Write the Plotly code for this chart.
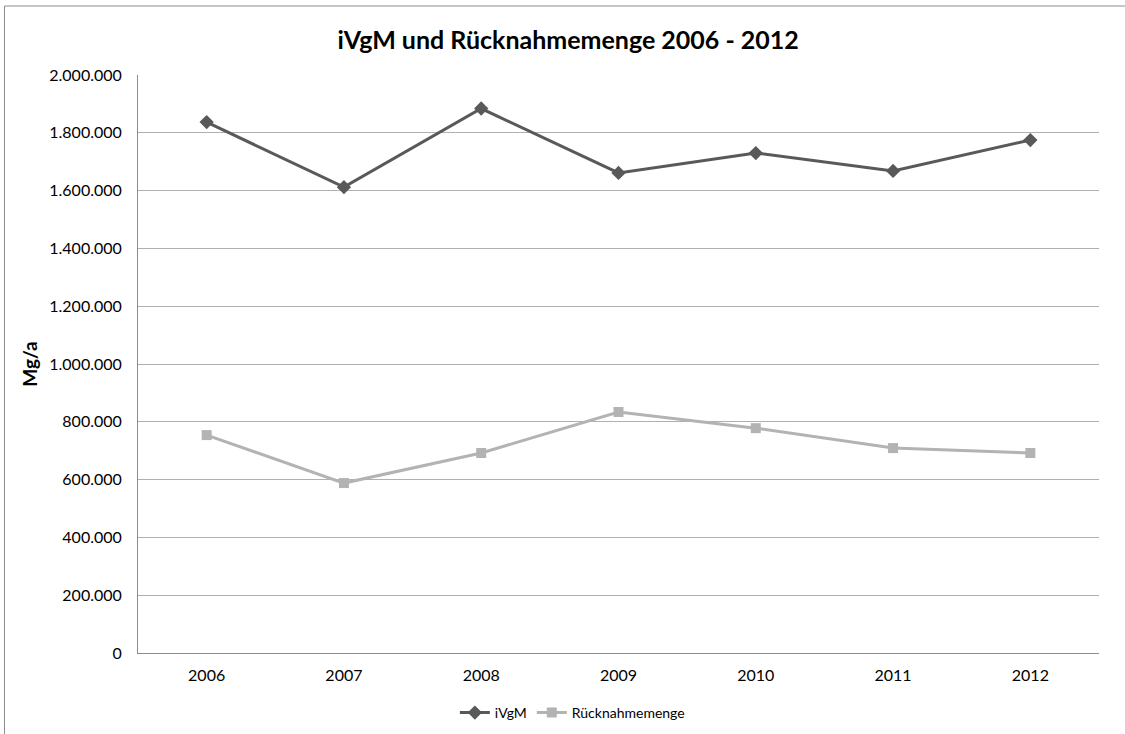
import plotly.graph_objects as go

years = ["2006", "2007", "2008", "2009", "2010", "2011", "2012"]
ivgm = [1837000, 1612000, 1884000, 1661000, 1730000, 1668000, 1775000]
ruecknahme = [754000, 588000, 692000, 834000, 778000, 709000, 692000]
y_ticks = [0, 200000, 400000, 600000, 800000, 1000000, 1200000, 1400000, 1600000, 1800000, 2000000]
y_labels = ["0", "200.000", "400.000", "600.000", "800.000", "1.000.000", "1.200.000",
            "1.400.000", "1.600.000", "1.800.000", "2.000.000"]

FONT = "Lato, Open Sans, sans-serif"

fig = go.Figure()
fig.add_trace(go.Scatter(
    x=years, y=ivgm, name="iVgM", mode="lines+markers",
    line=dict(color="#595959", width=3),
    marker=dict(symbol="diamond", size=11, color="#595959"),
))
fig.add_trace(go.Scatter(
    x=years, y=ruecknahme, name="Rücknahmemenge", mode="lines+markers",
    line=dict(color="#B3B3B3", width=3),
    marker=dict(symbol="square", size=10, color="#B3B3B3"),
))

fig.update_layout(
    width=1125, height=734,
    paper_bgcolor="white", plot_bgcolor="white",
    margin=dict(l=138, r=26, t=75, b=81),
    font=dict(family=FONT, size=16, color="#000000"),
    title=dict(text="<b>iVgM und Rücknahmemenge 2006 - 2012</b>",
               x=0.505, xanchor="center", y=0.945, yanchor="middle",
               font=dict(family=FONT, size=25, color="#000000")),
    showlegend=True,
    legend=dict(orientation="h", x=0.452, xanchor="center",
                yref="container", y=1 - 713 / 734, yanchor="middle",
                font=dict(family=FONT, size=14), itemwidth=30, bgcolor="rgba(0,0,0,0)"),
    xaxis=dict(type="category", showgrid=False, showline=True, linecolor="#8C8C8C",
               linewidth=1, ticks="", tickfont=dict(size=16), range=[-0.5, 6.5],
               ticklabelstandoff=8, automargin=False),
    yaxis=dict(range=[0, 2000000], tickvals=y_ticks, ticktext=y_labels,
               showgrid=True, gridcolor="#B0B0B0", gridwidth=1,
               showline=True, linecolor="#8C8C8C", linewidth=1, zeroline=False,
               ticks="", ticklen=0, tickfont=dict(size=16), ticklabelstandoff=12,
               automargin=False,
               title=dict(text="<b>Mg/a</b>", font=dict(size=19), standoff=6)),
    shapes=[dict(type="rect", xref="paper", yref="paper",
                 x0=(4.5 - 138) / 961, x1=(1130 - 138) / 961,
                 y0=(653 - 740) / 578, y1=(653 - 6) / 578,
                 line=dict(color="#8C8C8C", width=1), fillcolor="rgba(0,0,0,0)", layer="below")],
)

fig.write_html("out.html")
